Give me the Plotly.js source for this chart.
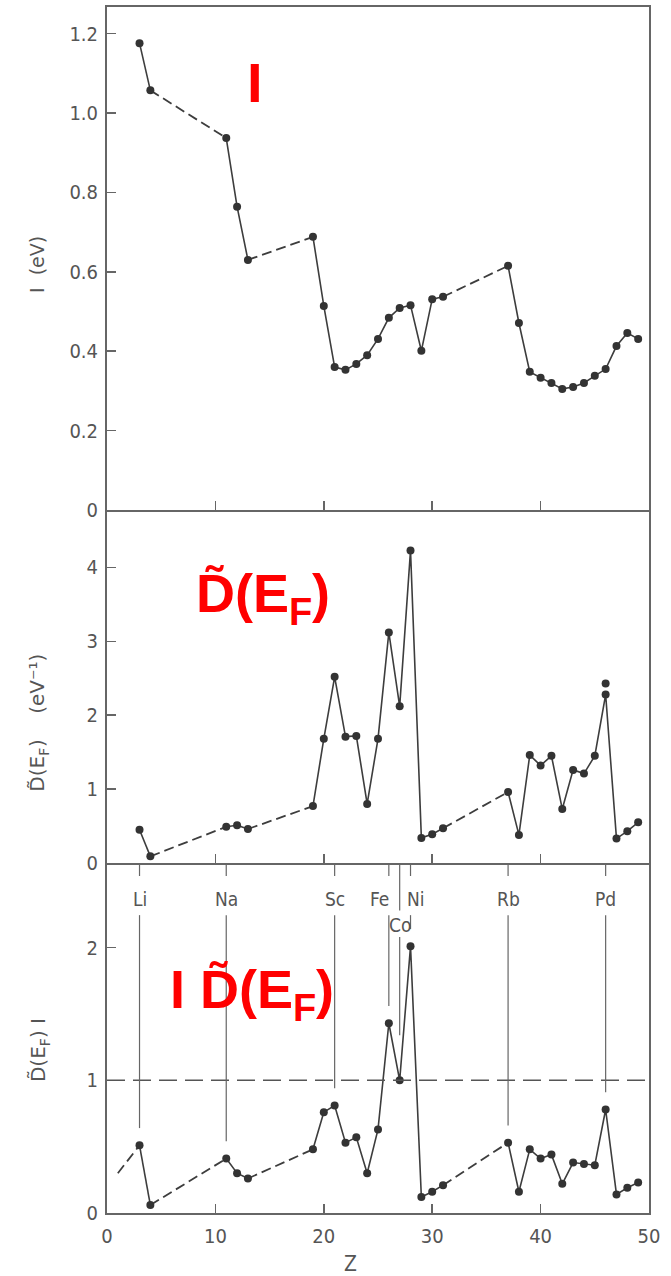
<!DOCTYPE html>
<html>
<head>
<meta charset="utf-8">
<script src="https://cdn.plot.ly/plotly-3.0.1.min.js"></script>
<style>html,body{margin:0;padding:0;background:#fff;}#chart{width:671px;height:1276px;}</style>
</head>
<body>
<div id="chart"></div>
<script>
// ---- data ----
const zElements = [3,4,11,12,13,19,20,21,22,23,24,25,26,27,28,29,30,31,37,38,39,40,41,42,43,44,45,46,47,48,49];
const ionI = [1.176,1.057,0.937,0.764,0.630,0.688,0.514,0.360,0.353,0.368,0.390,0.431,0.484,0.509,0.516,0.401,0.531,0.537,
              0.615,0.471,0.348,0.333,0.320,0.305,0.310,0.320,0.338,0.355,0.413,0.446,0.431];
const dosEF = [0.45,0.09,0.49,0.51,0.46,0.77,1.68,2.52,1.71,1.72,0.80,1.68,3.12,2.12,4.23,0.34,0.39,0.47,
               0.96,0.38,1.46,1.32,1.45,0.73,1.26,1.21,1.45,2.28,0.33,0.43,0.55];
const dosAltZ = [46];
const dosAltVal = [2.43];
const stoner = [0.51,0.06,0.41,0.30,0.26,0.48,0.76,0.81,0.53,0.57,0.30,0.63,1.43,1.00,2.01,0.12,0.16,0.21,
                0.53,0.16,0.48,0.41,0.44,0.22,0.38,0.37,0.36,0.78,0.14,0.19,0.23];
const stonerLeadZ = 1;
const stonerLeadVal = 0.30;
const markedNames = ['Li','Na','Sc','Fe','Co','Ni','Rb','Pd'];
const markedZ = [3,11,21,26,27,28,37,46];
const xTicks = [0,10,20,30,40,50];
const iTicks = [0,0.2,0.4,0.6,0.8,1.0,1.2];
const iTickText = ['0','0.2','0.4','0.6','0.8','1.0','1.2'];
const dTicks = [0,1,2,3,4];
const sTicks = [0,1,2];
const criterion = 1;

// ---- layout geometry (pixels) ----
const W = 671, H = 1276;
const L = 107, R = 649, T = 7, B = 1213;
const pw = R - L, ph = B - T;
const px2x = p => (p - L) / pw;
const px2y = p => (B - p) / ph;
const dTop = [px2y(510), 1], dMid = [px2y(863), px2y(510)], dBot = [0, px2y(863)];

const INK = '#333333', LINE = '#3d3d3d', AX = '#666666', TXT = '#555555';
const TF = '"DejaVu Sans Condensed", "Liberation Sans Narrow", "DejaVu Sans", sans-serif';
const TF2 = '"DejaVu Sans", sans-serif';
const NB = '\u00a0';

function split(z, v, xa, ya, leadZ, leadV) {
  const sx = [], sy = [], dx = [], dy = [];
  if (leadZ !== undefined) { dx.push(leadZ, z[0], null); dy.push(leadV, v[0], null); }
  for (let i = 0; i < z.length; i++) {
    if (i > 0 && z[i] - z[i-1] > 1) {
      sx.push(null); sy.push(null);
      dx.push(z[i-1], z[i], null); dy.push(v[i-1], v[i], null);
    }
    sx.push(z[i]); sy.push(v[i]);
  }
  return [
    {x: dx, y: dy, xaxis: xa, yaxis: ya, mode: 'lines', type: 'scatter', connectgaps: false,
     line: {color: LINE, width: 1.8, dash: '10px,5px'}, hoverinfo: 'skip', showlegend: false},
    {x: sx, y: sy, xaxis: xa, yaxis: ya, mode: 'lines+markers', type: 'scatter', connectgaps: false,
     line: {color: LINE, width: 1.6}, marker: {color: INK, size: 8}, showlegend: false}
  ];
}

const traces = [].concat(
  split(zElements, ionI, 'x', 'y'),
  split(zElements, dosEF, 'x2', 'y2'),
  [{x: dosAltZ, y: dosAltVal, xaxis: 'x2', yaxis: 'y2', mode: 'markers', type: 'scatter',
    marker: {color: INK, size: 8}, showlegend: false}],
  split(zElements, stoner, 'x3', 'y3', stonerLeadZ, stonerLeadVal)
);

const sTop = 2.638;
const shapes = [
  {type: 'line', xref: 'paper', x0: 0, x1: 1, yref: 'y3', y0: criterion, y1: criterion,
   line: {color: '#555', width: 1.5, dash: '18px,8px'}}
];
const annotations = [];
markedNames.forEach((nm, k) => {
  const z = markedZ[k];
  const val = stoner[zElements.indexOf(z)];
  const isCo = nm === 'Co';
  const topEnd = isCo ? 2.28 : 2.54;
  const botStart = isCo ? 2.08 : 2.245;
  const labY = isCo ? 2.17 : 2.366;
  const endVal = isCo ? val + 0.34 : val + 0.13;
  shapes.push({type: 'line', xref: 'x3', yref: 'y3', x0: z, x1: z, y0: sTop, y1: topEnd, line: {color: '#666', width: 1.2}});
  shapes.push({type: 'line', xref: 'x3', yref: 'y3', x0: z, x1: z, y0: botStart, y1: endVal, line: {color: '#666', width: 1.2}});
  annotations.push({xref: 'x3', yref: 'y3', x: z, y: labY, text: nm, showarrow: false,
    xshift: nm === 'Fe' ? -9 : (nm === 'Ni' ? 5 : 0),
    font: {family: TF, size: 19, color: TXT}});
});

// text made of pieces (subscripts drawn as separate smaller texts)
const ctx = document.createElement('canvas').getContext('2d');
function pieces(list, cx, cy, angle, family, color, bold, mainSize) {
  const widths = list.map(p => { ctx.font = (bold ? 'bold ' : '') + p.s + 'px ' + family; return ctx.measureText(p.t).width; });
  const total = widths.reduce((a, b) => a + b, 0);
  let cum = -total / 2;
  list.forEach((p, i) => {
    const along = cum + widths[i] / 2;
    const perp = 0.346 * (mainSize - p.s) + (p.dy || 0);
    cum += widths[i];
    let x, y;
    if (angle === 0) { x = cx + along; y = cy + perp; } else { x = cx + perp; y = cy - along; }
    annotations.push({xref: 'paper', yref: 'paper', x: px2x(x), y: px2y(y), text: bold ? '<b>' + p.t + '</b>' : p.t,
      textangle: angle, showarrow: false, xanchor: 'center', yanchor: 'middle',
      font: {family: family, size: p.s, color: color}});
  });
}

// axis titles (placed as in the reference)
annotations.push({xref: 'paper', yref: 'paper', x: px2x(37), y: px2y(265), text: 'I' + NB + NB + '(eV)', textangle: -90,
  showarrow: false, xanchor: 'center', yanchor: 'middle', font: {family: TF2, size: 19, color: TXT}});
pieces([{t: 'D̃(E', s: 20}, {t: 'F', s: 14, dy: 5}, {t: ')' + NB + NB + NB + NB + '(eV⁻¹)', s: 20}],
  37, 723, -90, TF2, TXT, false, 20);
pieces([{t: 'D̃(E', s: 20}, {t: 'F', s: 14, dy: 5}, {t: ')' + NB + 'I', s: 20}],
  38, 1050, -90, TF2, TXT, false, 20);
annotations.push({xref: 'paper', yref: 'paper', x: px2x(350), y: px2y(1264), text: 'Z',
  showarrow: false, xanchor: 'center', yanchor: 'middle', font: {family: TF, size: 21, color: TXT}});

// red panel labels
const RED = '#ff0000', RF = '"Liberation Sans", Arial, sans-serif';
annotations.push({xref: 'paper', yref: 'paper', x: px2x(255), y: px2y(82), text: '<b>I</b>', showarrow: false,
  xanchor: 'center', yanchor: 'middle', font: {family: RF, size: 56, color: RED}});
pieces([{t: 'D̃(E', s: 54}, {t: 'F', s: 38, dy: 13}, {t: ')', s: 54}], 263, 593, 0, RF, RED, true, 54);
pieces([{t: 'I' + NB + 'D̃(E', s: 54}, {t: 'F', s: 38, dy: 13}, {t: ')', s: 54}], 252, 989, 0, RF, RED, true, 54);

function xax(anchor, labels, mirror) {
  return {domain: [0, 1], anchor: anchor, range: [0, 50], tickmode: 'array',
    tickvals: labels ? xTicks : xTicks.slice(1, -1), ticktext: labels ? xTicks.map(String) : undefined,
    showticklabels: labels, ticks: 'inside', ticklen: 9, tickwidth: 1.5, tickcolor: AX,
    showline: true, mirror: mirror, linecolor: AX, linewidth: 2, showgrid: false, zeroline: false,
    tickfont: {family: TF, size: 20, color: TXT}, ticklabelstandoff: 4};
}
function yax(anchor, dom, rng, vals, txt) {
  return {domain: dom, anchor: anchor, range: rng, tickmode: 'array', tickvals: vals, ticktext: txt,
    ticks: 'inside', ticklen: 9, tickwidth: 1.5, tickcolor: AX,
    showline: true, mirror: true, linecolor: AX, linewidth: 2, showgrid: false, zeroline: false,
    tickfont: {family: TF, size: 20, color: TXT}, ticklabelstandoff: 3};
}

const layout = {
  width: W, height: H,
  margin: {l: L, r: W - R, t: T, b: H - B, pad: 0},
  paper_bgcolor: '#fff', plot_bgcolor: '#fff',
  showlegend: false,
  xaxis: xax('y', false, true),
  xaxis2: xax('y2', false, false),
  xaxis3: xax('y3', true, false),
  yaxis: yax('x', dTop, [0, 1.267], iTicks, iTickText),
  yaxis2: yax('x2', dMid, [0, 4.777], dTicks, dTicks.map(String)),
  yaxis3: yax('x3', dBot, [0, 2.638], sTicks, sTicks.map(String)),
  shapes: shapes,
  annotations: annotations
};

Plotly.newPlot('chart', traces, layout, {displayModeBar: false, staticPlot: true});
</script>
</body>
</html>
